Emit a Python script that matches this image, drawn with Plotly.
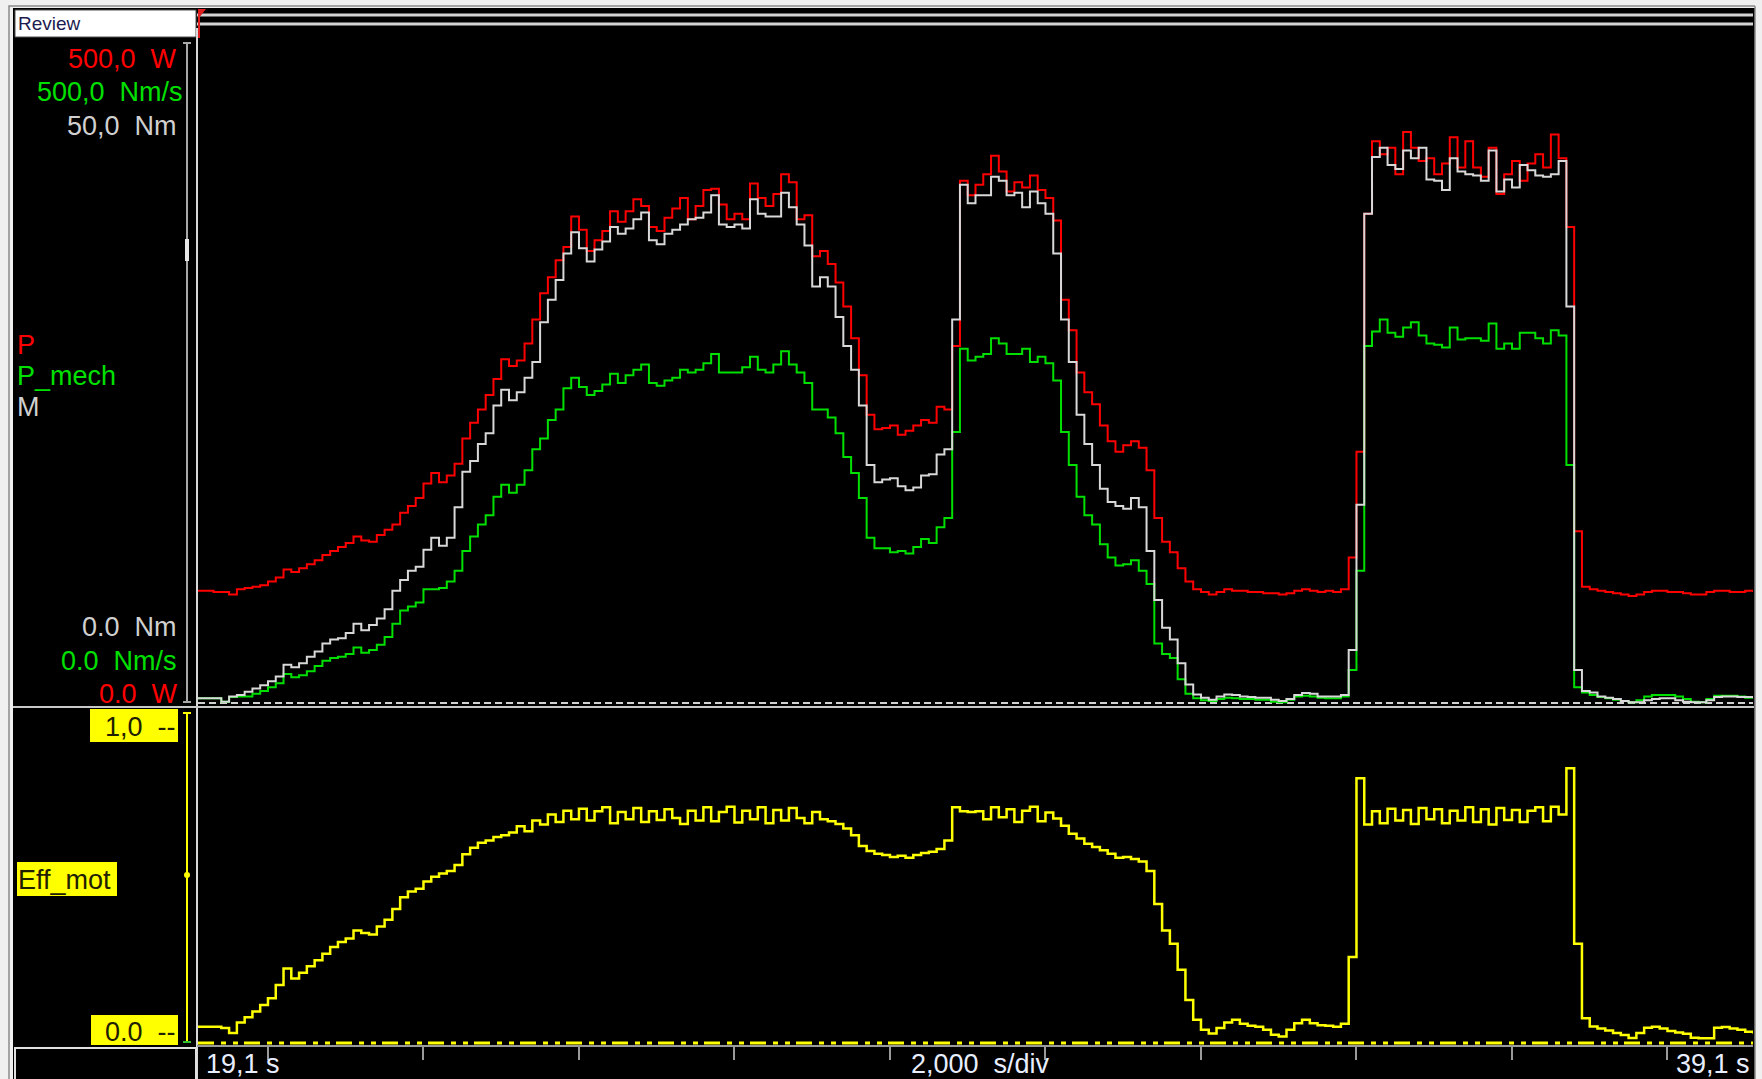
import plotly.graph_objects as go

# ---------------- data (sampled every 0.1 s from 19.1 s to 39.1 s) ----------------
T_START = 19.1
T_END = 39.1
T_STEP = 0.1
TIME_S = [round(T_START + T_STEP * i, 2) for i in range(201)]

# electrical power P [W]
P_W = [
    85, 85, 84, 84, 82, 86, 87, 88, 89, 92,
    95, 101, 99, 102, 105, 108, 112, 115, 118, 121,
    126, 123, 122, 127, 131, 135, 144, 149, 155, 166,
    174, 167, 172, 181, 200, 212, 222, 233, 245, 260,
    255, 259, 272, 290, 310, 322, 335, 345, 368, 358,
    342, 350, 357, 372, 364, 372, 381, 376, 360, 357,
    367, 374, 382, 366, 376, 388, 389, 377, 366, 370,
    366, 393, 382, 376, 385, 400, 394, 366, 369, 338,
    342, 332, 318, 300, 276, 248, 218, 207, 208, 210,
    203, 206, 210, 214, 212, 224, 222, 270, 395, 384,
    392, 400, 414, 402, 387, 394, 390, 399, 388, 382,
    365, 305, 282, 250, 235, 226, 210, 198, 190, 195,
    198, 193, 176, 140, 122, 114, 102, 92, 86, 84,
    82, 84, 86, 85, 85, 84, 84, 83, 83, 82,
    83, 85, 86, 85, 84, 85, 84, 86, 110, 190,
    370, 425, 415, 420, 400, 432, 420, 410, 412, 400,
    408, 428, 405, 425, 405, 398, 420, 385, 400, 410,
    395, 408, 415, 405, 430, 412, 360, 130, 88, 86,
    85, 84, 83, 82, 81, 82, 84, 85, 85, 84,
    84, 83, 82, 82, 84, 85, 85, 84, 84, 85,
    84,
]

# mechanical power P_mech [Nm/s]
P_MECH = [
    3.5, 3.5, 3.5, 1, 4.5, 5, 5, 7, 9, 12,
    15, 22, 19.5, 21, 24, 28, 32, 34, 35, 37,
    42, 38, 40, 44, 50, 60, 70, 73, 76, 86,
    86, 87, 92, 100, 115, 126, 135, 142, 156, 165,
    159, 165, 176, 192, 200, 214, 222, 238, 246, 239,
    233, 236, 241, 249, 242, 248, 252, 256, 242, 240,
    244, 246, 252, 250, 252, 257, 264, 250, 250, 250,
    254, 262, 252, 250, 256, 266, 256, 250, 242, 222,
    222, 216, 204, 186, 174, 155, 125, 117, 117, 114,
    115, 113, 118, 124, 121, 133, 140, 205, 268, 259,
    262, 264, 276, 272, 264, 264, 268, 258, 262, 257,
    244, 205, 180, 156, 142, 135, 120, 110, 104, 105,
    108, 100, 90, 45, 37, 34, 18, 7, 3.5, 2,
    1.5, 3, 4, 3.5, 3, 3, 2.5, 2.5, 1, 0.5,
    2.5, 5, 5.5, 5, 4, 3.5, 3.5, 5, 25, 100,
    270, 281, 290, 280, 277, 284, 288, 278, 272, 271,
    269, 284, 275, 276, 276, 274, 287, 268, 272, 268,
    280, 280, 276, 272, 282, 278, 180, 12, 8, 6,
    4.5, 3.5, 2.5, 1.5, 0.5, 2, 5, 6, 6, 6,
    5, 3, 1, 0.5, 3, 5.5, 5.5, 5.5, 5, 4,
    3.5,
]

# torque M [Nm]
M_NM = [
    0.35, 0.35, 0.35, 0.1, 0.5, 0.6, 0.85, 1.1, 1.35, 1.65,
    2.0, 2.9, 2.7, 3.0, 3.5, 3.9, 4.5, 4.8, 4.9, 5.3,
    6.0, 5.5, 5.9, 6.4, 7.1, 8.5, 9.3, 10.0, 10.3, 11.6,
    12.5, 11.9, 12.5, 14.8, 17.5, 18.3, 19.6, 20.4, 22.5, 23.7,
    22.9, 23.5, 24.6, 25.8, 28.8, 30.5, 32.0, 34.0, 35.6, 34.4,
    33.4, 34.3, 34.9, 36.0, 35.5, 35.9, 36.6, 37.1, 35.0, 34.7,
    35.5, 35.8, 36.2, 36.6, 36.7, 37.1, 38.4, 36.2, 36.0, 36.2,
    35.9, 38.1, 37.0, 36.8, 36.8, 38.6, 37.5, 36.2, 34.6, 31.5,
    32.2, 31.5, 29.2, 27.0, 25.2, 22.5, 18.0, 16.7, 16.9, 17.0,
    16.4, 16.1, 16.3, 17.2, 17.3, 18.8, 19.2, 29.0, 39.2, 37.8,
    38.4, 38.4, 39.8, 39.5, 38.4, 38.6, 37.5, 38.7, 37.8, 37.0,
    34.0, 29.0, 25.8, 21.8, 19.6, 18.0, 16.2, 15.2, 14.9, 14.7,
    15.5, 14.8, 11.5, 7.8, 5.7, 4.8, 3.0, 1.4, 0.65, 0.4,
    0.25, 0.5, 0.65, 0.6, 0.5, 0.45, 0.4, 0.4, 0.25, 0.15,
    0.3, 0.6, 0.75, 0.7, 0.5, 0.5, 0.5, 0.6, 4.0, 15.0,
    37.0, 41.3, 42.0, 40.7, 40.4, 41.8, 41.2, 42.0, 39.6, 39.5,
    38.8, 41.2, 40.2, 40.0, 39.9, 39.5, 41.8, 38.7, 39.6, 39.0,
    40.7, 40.3, 39.9, 39.8, 40.0, 41.0, 30.0, 2.5, 0.9, 0.8,
    0.5, 0.4, 0.3, 0.15, 0.05, 0.05, 0.2, 0.3, 0.35, 0.35,
    0.2, 0.1, 0.05, 0.05, 0.2, 0.45, 0.5, 0.5, 0.45, 0.45,
    0.45,
]

# motor efficiency Eff_mot [-]
EFF_MOT = [
    0.049, 0.049, 0.049, 0.045, 0.030, 0.062, 0.078, 0.095, 0.115, 0.135,
    0.175, 0.225, 0.195, 0.212, 0.232, 0.250, 0.270, 0.290, 0.305, 0.316,
    0.340, 0.332, 0.328, 0.352, 0.372, 0.405, 0.440, 0.458, 0.466, 0.488,
    0.502, 0.512, 0.520, 0.538, 0.570, 0.590, 0.605, 0.612, 0.622, 0.628,
    0.636, 0.655, 0.640, 0.672, 0.660, 0.690, 0.668, 0.702, 0.676, 0.708,
    0.672, 0.700, 0.712, 0.664, 0.698, 0.676, 0.710, 0.668, 0.700, 0.674,
    0.706, 0.680, 0.662, 0.702, 0.672, 0.712, 0.670, 0.698, 0.714, 0.666,
    0.702, 0.676, 0.712, 0.664, 0.704, 0.672, 0.710, 0.680, 0.664, 0.698,
    0.676, 0.670, 0.662, 0.648, 0.628, 0.595, 0.580, 0.572, 0.568, 0.562,
    0.566, 0.560, 0.568, 0.574, 0.578, 0.586, 0.612, 0.712, 0.700, 0.698,
    0.700, 0.676, 0.712, 0.682, 0.706, 0.668, 0.702, 0.714, 0.670, 0.696,
    0.678, 0.656, 0.632, 0.618, 0.602, 0.592, 0.582, 0.572, 0.560, 0.562,
    0.556, 0.548, 0.520, 0.420, 0.340, 0.300, 0.221, 0.130, 0.070, 0.040,
    0.029, 0.045, 0.062, 0.070, 0.058, 0.052, 0.049, 0.040, 0.025, 0.020,
    0.040, 0.060, 0.070, 0.060, 0.054, 0.052, 0.049, 0.058, 0.260, 0.800,
    0.660, 0.700, 0.664, 0.708, 0.672, 0.704, 0.662, 0.710, 0.676, 0.706,
    0.664, 0.702, 0.672, 0.712, 0.668, 0.706, 0.660, 0.710, 0.674, 0.704,
    0.668, 0.702, 0.712, 0.670, 0.714, 0.690, 0.830, 0.300, 0.075, 0.050,
    0.044, 0.038, 0.030, 0.024, 0.015, 0.030, 0.046, 0.049, 0.044, 0.036,
    0.032, 0.028, 0.016, 0.014, 0.014, 0.046, 0.048, 0.044, 0.040, 0.034,
    0.029,
]

# scale limits and ticks
P_FULL_W = 500.0
PMECH_FULL = 500.0
M_FULL_NM = 50.0
EFF_FULL = 1.0
TIME_TICKS = [20, 22, 24, 26, 28, 30, 32, 34, 36, 38]

# labels
LBL_TOP_SCALE = ["500,0  W", "500,0  Nm/s", "50,0  Nm"]
LBL_BOTTOM_SCALE = ["0.0  Nm", "0.0  Nm/s", "0.0  W"]
LBL_NAMES = ["P", "P_mech", "M"]
LBL_EFF = ["1,0  --", "Eff_mot", "0.0  --"]
LBL_TIME = ["19,1 s", "2,000  s/div", "39,1 s"]
LBL_MODE = "Review"

# ---------------- layout helpers ----------------
W, H = 1762, 1079
FONT = "Liberation Sans"
RED, GREEN, WHITE, YELLOW = "#ff0000", "#00e000", "#d8d8d8", "#ffff00"


def X(px):
    return px / W


def Y(py):
    return 1 - py / H


# pixel geometry of the panels
PLOT_L, PLOT_R = 198, 1753
TOP_T, TOP_B = 28, 705
TOP_ZERO, TOP_FULL = 703, 42
BOT_T, BOT_B = 708, 1045
BOT_ZERO, BOT_FULL = 1043, 712


def rng(full, zero_px, full_px, top_px, bot_px):
    per_px = full / (zero_px - full_px)
    return [(zero_px - bot_px) * per_px, (zero_px - top_px) * per_px]


fig = go.Figure()
fig.add_trace(go.Scatter(x=TIME_S, y=P_W, xaxis="x", yaxis="y", mode="lines",
                         line=dict(color=RED, width=2, shape="hv"), name="P"))
fig.add_trace(go.Scatter(x=TIME_S, y=P_MECH, xaxis="x", yaxis="y3", mode="lines",
                         line=dict(color=GREEN, width=2, shape="hv"), name="P_mech"))
fig.add_trace(go.Scatter(x=TIME_S, y=M_NM, xaxis="x", yaxis="y4", mode="lines",
                         line=dict(color=WHITE, width=2, shape="hv"), name="M"))
fig.add_trace(go.Scatter(x=TIME_S, y=EFF_MOT, xaxis="x2", yaxis="y2", mode="lines",
                         line=dict(color=YELLOW, width=2.5, shape="hv"), name="Eff_mot"))

hidden = dict(showgrid=False, zeroline=False, showticklabels=False, ticks="", showline=False)

shapes = []


def rect(x0, y0, x1, y1, fill=None, line=None, lw=1, layer="above"):
    shapes.append(dict(type="rect", xref="paper", yref="paper",
                       x0=X(x0), x1=X(x1), y0=Y(y1), y1=Y(y0),
                       fillcolor=fill if fill else "rgba(0,0,0,0)",
                       line=dict(color=line if line else "rgba(0,0,0,0)", width=lw if line else 0),
                       layer=layer))


def hline(x0, x1, y, color, lw=2, dash="solid", layer="above"):
    shapes.append(dict(type="line", xref="paper", yref="paper",
                       x0=X(x0), x1=X(x1), y0=Y(y), y1=Y(y),
                       line=dict(color=color, width=lw, dash=dash), layer=layer))


def vline(x, y0, y1, color, lw=2, layer="above"):
    shapes.append(dict(type="line", xref="paper", yref="paper",
                       x0=X(x), x1=X(x), y0=Y(y0), y1=Y(y1),
                       line=dict(color=color, width=lw), layer=layer))


# window frame and black instrument area
rect(13, 8, 1755, 1079, fill="black", layer="below")
rect(9, 6, 1756, 1080, line="#8a8a8a", lw=1.5, layer="below")
# top bar with double rails
hline(197, 1753, 15, "#d4d4d4", lw=3)
hline(197, 1753, 24, "#d4d4d4", lw=3)
# Review box
rect(15, 10, 196, 37, fill="white", line="#505050", lw=1)
# trigger marker
vline(199, 10, 38, "#e02020", lw=2)
shapes.append(dict(type="path", xref="paper", yref="paper",
                   path=f"M {X(198)},{Y(9)} L {X(206)},{Y(9)} L {X(198)},{Y(19)} Z",
                   fillcolor="#e02020", line=dict(width=0)))
# plot area left border
vline(197, 28, 1079, "#d8d8d8", lw=2)
# panel separator
hline(13, 1754, 707, "#c8c8c8", lw=2)
# time axis line
hline(197, 1753, 1046, "#9a9a9a", lw=2)
# bottom-left box
rect(15, 1048, 196, 1082, fill="black", line="#e0e0e0", lw=2)
# scale bars
vline(187, 42, 703, "#a8a8a8", lw=2)
hline(183, 191, 43, "#a8a8a8", lw=2)
hline(183, 191, 702, "#a8a8a8", lw=2)
rect(185, 239, 189, 261, fill="#e8e8e8")
vline(187, 712, 1043, YELLOW, lw=2)
hline(183, 191, 713, YELLOW, lw=2)
hline(183, 191, 1042, "#30c030", lw=2)
shapes.append(dict(type="circle", xref="paper", yref="paper",
                   x0=X(184), x1=X(190), y0=Y(878), y1=Y(872),
                   fillcolor=YELLOW, line=dict(width=0)))
# yellow label boxes
rect(90, 709, 178, 742, fill=YELLOW)
rect(17, 862, 117, 896, fill=YELLOW)
rect(91, 1015, 178, 1045, fill=YELLOW)
# zero baselines (tied to the data axes)
shapes.append(dict(type="line", xref="paper", yref="y", x0=X(PLOT_L), x1=X(PLOT_R),
                   y0=0, y1=0, line=dict(color="#d0d0d0", width=2, dash="7px,4px"),
                   layer="below"))
shapes.append(dict(type="line", xref="paper", yref="y2", x0=X(PLOT_L), x1=X(PLOT_R),
                   y0=0, y1=0, line=dict(color=YELLOW, width=3, dash="16px,7px,5px,7px,5px,6px"),
                   layer="below"))
# right window edge
rect(1755, 0, 1762, 1079, fill="#f0f0f0", layer="above")
vline(1755, 6, 1079, "#8a8a8a", lw=1.5)

annotations = []


def text(s, x, y, color, anchor="right", size=27, bg=None):
    annotations.append(dict(text=s, xref="paper", yref="paper", x=X(x), y=Y(y),
                            xanchor=anchor, yanchor="middle", showarrow=False,
                            font=dict(family=FONT, size=size, color=color),
                            bgcolor=bg, borderpad=0))


text(LBL_MODE, 17, 24, "#1c1c50", anchor="left", size=19)
text(LBL_TOP_SCALE[0], 178, 59, RED)
text(LBL_TOP_SCALE[1], 184, 92, GREEN)
text(LBL_TOP_SCALE[2], 178, 126, "#d0d0d0")
text(LBL_NAMES[0], 16, 345, RED, anchor="left")
text(LBL_NAMES[1], 16, 376, GREEN, anchor="left")
text(LBL_NAMES[2], 16, 407, "#d0d0d0", anchor="left")
text(LBL_BOTTOM_SCALE[0], 178, 627, "#d0d0d0")
text(LBL_BOTTOM_SCALE[1], 178, 661, GREEN)
text(LBL_BOTTOM_SCALE[2], 179, 694, RED)
text(LBL_EFF[0], 177, 727, "#202000")
text(LBL_EFF[1], 17, 880, "#202000", anchor="left")
text(LBL_EFF[2], 177, 1032, "#202000")
text(LBL_TIME[0], 205, 1064, "#e8eeff", anchor="left")
text(LBL_TIME[1], 980, 1064, "#e8eeff", anchor="center")
text(LBL_TIME[2], 1751, 1064, "#e8eeff", anchor="right")

fig.update_layout(
    width=W, height=H,
    margin=dict(l=0, r=0, t=0, b=0),
    paper_bgcolor="#f0f0f0",
    plot_bgcolor="black",
    showlegend=False,
    hovermode=False,
    xaxis=dict(domain=[X(PLOT_L), X(PLOT_R)], range=[T_START, T_END], anchor="y", **hidden),
    xaxis2=dict(domain=[X(PLOT_L), X(PLOT_R)], range=[T_START, T_END], anchor="y2",
                showgrid=False, zeroline=False, showticklabels=False, showline=False,
                ticks="outside", tickvals=TIME_TICKS, ticklen=14, tickwidth=2,
                tickcolor="#9a9a9a"),
    yaxis=dict(domain=[Y(TOP_B), Y(TOP_T)], anchor="x",
               range=rng(P_FULL_W, TOP_ZERO, TOP_FULL, TOP_T, TOP_B), **hidden),
    yaxis3=dict(overlaying="y", anchor="x",
                range=rng(PMECH_FULL, TOP_ZERO, TOP_FULL, TOP_T, TOP_B), **hidden),
    yaxis4=dict(overlaying="y", anchor="x",
                range=rng(M_FULL_NM, TOP_ZERO, TOP_FULL, TOP_T, TOP_B), **hidden),
    yaxis2=dict(domain=[Y(BOT_B), Y(BOT_T)], anchor="x2",
                range=rng(EFF_FULL, BOT_ZERO, BOT_FULL, BOT_T, BOT_B), **hidden),
    shapes=shapes,
    annotations=annotations,
)

fig.write_html("out.html", config={"displayModeBar": False},
               post_script="document.body.style.margin='0px';")
